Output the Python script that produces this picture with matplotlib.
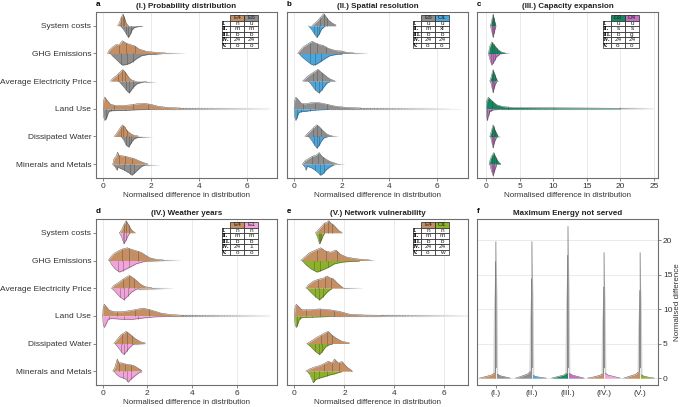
import numpy as np
import matplotlib.pyplot as plt
from matplotlib.collections import LineCollection
from matplotlib.patches import Rectangle

plt.rcParams['font.family'] = ['Liberation Sans', 'DejaVu Sans']

categories = ["System costs", "GHG Emissions", "Average Electricity Price",
              "Land Use", "Dissipated Water", "Minerals and Metals"]
row_labels = ["I.", "II.", "III.", "IV.", "V."]

# scenario colours
col = {'E4': '#c58e63', 'E6': '#8e8e8e', 'O1b': '#4aa6dc', 'D3': '#16875e',
       'D4': '#c272c2', 'E1': '#f2a3db', 'O1e': '#8cb22a'}

# half-violin profiles: (x, half height) knots, one list per category
# panel a: E4 (upper) vs E6 (lower)
a_upper = [
    [(0.6, 0), (0.68, 0.12), (0.75, 0.3), (0.82, 0.42), (0.88, 0.32), (0.95, 0.12), (1.0, 0.04), (1.05, 0.02)],
    [(0.18, 0), (0.25, 0.12), (0.4, 0.24), (0.55, 0.33), (0.65, 0.3), (0.8, 0.46), (0.95, 0.38), (1.1, 0.33),
     (1.3, 0.28), (1.5, 0.16), (1.8, 0.08), (2.2, 0.04), (2.6, 0.02)],
    [(0.3, 0), (0.4, 0.1), (0.55, 0.2), (0.7, 0.33), (0.82, 0.42), (0.9, 0.35), (1.0, 0.22), (1.1, 0.1),
     (1.2, 0.04), (1.3, 0.02)],
    [(0.0, 0), (0.02, 0.3), (0.07, 0.43), (0.15, 0.32), (0.3, 0.17), (0.5, 0.12), (0.8, 0.12), (1.1, 0.14),
     (1.4, 0.18), (1.7, 0.2), (2.0, 0.16), (2.3, 0.09), (2.7, 0.05), (3.2, 0.03)],
    [(0.45, 0), (0.55, 0.1), (0.7, 0.3), (0.8, 0.42), (0.9, 0.35), (1.0, 0.2), (1.15, 0.1), (1.3, 0.04), (1.45, 0.02)],
    [(0.4, 0), (0.45, 0.2), (0.55, 0.3), (0.6, 0.44), (0.65, 0.32), (0.8, 0.3), (0.95, 0.28), (1.1, 0.24),
     (1.3, 0.2), (1.5, 0.12), (1.7, 0.05), (1.85, 0.02)],
]
a_lower = [
    [(0.72, 0), (0.8, 0.08), (0.9, 0.2), (1.0, 0.35), (1.05, 0.42), (1.12, 0.32), (1.2, 0.15), (1.3, 0.06),
     (1.45, 0.03), (1.6, 0.02)],
    [(0.3, 0), (0.4, 0.1), (0.55, 0.22), (0.7, 0.35), (0.8, 0.42), (0.95, 0.4), (1.1, 0.36), (1.25, 0.28),
     (1.4, 0.18), (1.6, 0.08), (1.9, 0.03), (2.2, 0.02)],
    [(0.65, 0), (0.75, 0.1), (0.9, 0.25), (1.0, 0.36), (1.08, 0.42), (1.15, 0.35), (1.25, 0.22), (1.4, 0.1),
     (1.6, 0.04), (1.8, 0.02)],
    [(0.0, 0), (0.02, 0.3), (0.07, 0.42), (0.15, 0.3), (0.22, 0.12), (0.3, 0.07), (0.6, 0.06), (1.0, 0.05),
     (1.5, 0.03), (2.0, 0.02)],
    [(0.75, 0), (0.85, 0.12), (0.95, 0.3), (1.05, 0.38), (1.12, 0.3), (1.2, 0.18), (1.3, 0.08), (1.45, 0.03), (1.6, 0.02)],
    [(0.4, 0), (0.5, 0.1), (0.58, 0.22), (0.62, 0.1), (0.7, 0.15), (0.85, 0.2), (1.0, 0.28), (1.1, 0.33),
     (1.2, 0.4), (1.3, 0.32), (1.45, 0.2), (1.6, 0.08), (1.75, 0.03)],
]
a_tail_upper = [1.05, 3.4, 1.45, 6.95, 1.5, 1.85]
a_tail_lower = [1.65, 2.5, 2.2, 6.9, 2.05, 2.35]

# panel b: E6 (upper) vs O1 (lower)
b_upper = [
    [(0.75, 0), (0.85, 0.08), (1.0, 0.2), (1.1, 0.3), (1.2, 0.4), (1.25, 0.44), (1.32, 0.35), (1.45, 0.2),
     (1.6, 0.1), (1.75, 0.03)],
    [(0.15, 0), (0.25, 0.12), (0.4, 0.25), (0.6, 0.36), (0.75, 0.44), (0.9, 0.38), (1.05, 0.32), (1.2, 0.3),
     (1.4, 0.2), (1.6, 0.14), (1.8, 0.1), (2.0, 0.09), (2.2, 0.04), (2.5, 0.02)],
    [(0.35, 0), (0.45, 0.08), (0.6, 0.2), (0.8, 0.32), (0.95, 0.4), (1.0, 0.43), (1.1, 0.35), (1.25, 0.25),
     (1.4, 0.14), (1.55, 0.06), (1.7, 0.02)],
    [(0.0, 0), (0.02, 0.3), (0.07, 0.42), (0.15, 0.35), (0.3, 0.2), (0.45, 0.18), (0.7, 0.22), (1.0, 0.23),
     (1.3, 0.18), (1.7, 0.1), (2.2, 0.05), (2.8, 0.03)],
    [(0.45, 0), (0.55, 0.1), (0.7, 0.22), (0.85, 0.35), (0.95, 0.42), (1.05, 0.36), (1.2, 0.22), (1.35, 0.1),
     (1.5, 0.04), (1.6, 0.02)],
    [(0.35, 0), (0.45, 0.12), (0.6, 0.2), (0.75, 0.28), (0.9, 0.32), (1.0, 0.38), (1.05, 0.42), (1.15, 0.3),
     (1.3, 0.2), (1.5, 0.1), (1.7, 0.04), (1.8, 0.02)],
]
b_lower = [
    [(0.6, 0), (0.7, 0.1), (0.82, 0.25), (0.95, 0.42), (1.05, 0.3), (1.15, 0.12), (1.25, 0.04), (1.3, 0.02)],
    [(0.2, 0), (0.3, 0.1), (0.5, 0.25), (0.7, 0.38), (0.8, 0.42), (0.95, 0.38), (1.1, 0.3), (1.3, 0.18),
     (1.5, 0.08), (1.8, 0.03), (2.0, 0.02)],
    [(0.6, 0), (0.7, 0.1), (0.85, 0.28), (1.0, 0.4), (1.05, 0.42), (1.15, 0.32), (1.3, 0.15), (1.4, 0.05), (1.5, 0.02)],
    [(0.0, 0), (0.02, 0.3), (0.07, 0.42), (0.12, 0.3), (0.2, 0.14), (0.3, 0.1), (0.5, 0.09), (0.7, 0.06),
     (1.0, 0.04), (1.5, 0.02)],
    [(0.6, 0), (0.7, 0.1), (0.85, 0.3), (0.95, 0.42), (1.05, 0.32), (1.15, 0.15), (1.25, 0.05), (1.35, 0.02)],
    [(0.35, 0), (0.45, 0.1), (0.5, 0.22), (0.55, 0.08), (0.7, 0.12), (0.85, 0.2), (1.0, 0.3), (1.1, 0.4),
     (1.2, 0.35), (1.35, 0.2), (1.5, 0.1), (1.65, 0.03)],
]
b_tail_upper = [1.75, 3.1, 1.75, 6.5, 1.85, 2.1]
b_tail_lower = [1.3, 2.0, 1.5, 7.0, 1.4, 1.7]

# panel c: D3 (upper) vs D4 (lower)
c_upper = [
    [(0.6, 0), (0.8, 0.2), (1.0, 0.42), (1.2, 0.2), (1.4, 0.03)],
    [(0.3, 0), (0.5, 0.25), (0.8, 0.42), (1.2, 0.3), (1.7, 0.15), (2.2, 0.06), (2.8, 0.02)],
    [(0.5, 0), (0.7, 0.15), (1.0, 0.42), (1.3, 0.2), (1.6, 0.04)],
    [(0.0, 0), (0.05, 0.3), (0.3, 0.42), (0.8, 0.3), (1.5, 0.15), (2.5, 0.08), (4.0, 0.05), (8.0, 0.04),
     (15.0, 0.03), (20.0, 0.02)],
    [(0.5, 0), (0.75, 0.2), (1.0, 0.42), (1.3, 0.22), (1.7, 0.04)],
    [(0.4, 0), (0.6, 0.2), (0.8, 0.3), (1.1, 0.42), (1.4, 0.25), (1.8, 0.08), (2.1, 0.02)],
]
c_lower = [
    [(0.6, 0), (0.8, 0.2), (1.0, 0.42), (1.2, 0.2), (1.4, 0.03)],
    [(0.3, 0), (0.5, 0.2), (0.8, 0.42), (1.1, 0.3), (1.5, 0.12), (2.0, 0.03)],
    [(0.6, 0), (0.8, 0.2), (1.0, 0.42), (1.2, 0.2), (1.5, 0.03)],
    [(0.0, 0), (0.05, 0.3), (0.15, 0.42), (0.3, 0.25), (0.5, 0.1), (1.0, 0.04), (2.0, 0.02)],
    [(0.6, 0), (0.8, 0.2), (1.0, 0.42), (1.2, 0.2), (1.5, 0.03)],
    [(0.5, 0), (0.7, 0.2), (1.0, 0.42), (1.2, 0.25), (1.5, 0.05)],
]
c_tail_upper = [1.4, 3.5, 1.8, 25.0, 2.0, 2.1]
c_tail_lower = [1.4, 2.2, 1.5, 25.0, 2.0, 1.5]

# panel d: E4 (upper) vs E1 (lower)
d_upper = [
    [(0.75, 0), (0.85, 0.12), (0.95, 0.3), (1.05, 0.44), (1.15, 0.3), (1.25, 0.15), (1.35, 0.05), (1.45, 0.02)],
    [(0.25, 0), (0.35, 0.12), (0.5, 0.25), (0.7, 0.35), (0.9, 0.42), (1.1, 0.46), (1.3, 0.4), (1.5, 0.35),
     (1.7, 0.3), (1.9, 0.2), (2.1, 0.1), (2.4, 0.04), (2.7, 0.02)],
    [(0.4, 0), (0.5, 0.1), (0.7, 0.2), (0.9, 0.32), (1.05, 0.4), (1.2, 0.46), (1.35, 0.38), (1.5, 0.28),
     (1.7, 0.14), (1.9, 0.05), (2.2, 0.02)],
    [(0.0, 0), (0.02, 0.3), (0.07, 0.42), (0.15, 0.34), (0.3, 0.2), (0.5, 0.15), (0.9, 0.15), (1.3, 0.2),
     (1.8, 0.28), (2.2, 0.2), (2.6, 0.1), (3.0, 0.05), (3.6, 0.02)],
    [(0.5, 0), (0.6, 0.1), (0.8, 0.3), (1.05, 0.44), (1.25, 0.32), (1.45, 0.18), (1.7, 0.06), (1.9, 0.02)],
    [(0.45, 0), (0.55, 0.15), (0.65, 0.44), (0.72, 0.3), (0.85, 0.3), (1.0, 0.26), (1.2, 0.24), (1.4, 0.2),
     (1.6, 0.1), (1.75, 0.02)],
]
d_lower = [
    [(0.75, 0), (0.85, 0.15), (0.95, 0.4), (1.05, 0.25), (1.15, 0.08), (1.2, 0.02)],
    [(0.3, 0), (0.4, 0.15), (0.55, 0.3), (0.75, 0.42), (0.95, 0.35), (1.2, 0.25), (1.5, 0.12), (1.8, 0.05), (2.0, 0.02)],
    [(0.4, 0), (0.55, 0.12), (0.75, 0.3), (0.95, 0.42), (1.1, 0.3), (1.3, 0.14), (1.5, 0.04), (1.6, 0.02)],
    [(0.0, 0), (0.02, 0.3), (0.07, 0.42), (0.15, 0.3), (0.25, 0.12), (0.4, 0.1), (0.8, 0.12), (1.3, 0.13),
     (1.8, 0.08), (2.3, 0.04), (3.0, 0.02)],
    [(0.55, 0), (0.7, 0.15), (0.85, 0.32), (0.95, 0.4), (1.05, 0.3), (1.2, 0.15), (1.35, 0.04), (1.45, 0.02)],
    [(0.5, 0), (0.6, 0.1), (0.75, 0.2), (0.9, 0.24), (1.05, 0.3), (1.15, 0.4), (1.25, 0.3), (1.4, 0.2),
     (1.55, 0.1), (1.7, 0.02)],
]
d_tail_upper = [1.45, 3.45, 3.15, 7.5, 1.9, 1.75]
d_tail_lower = [1.2, 2.75, 2.7, 7.5, 1.9, 1.75]

# panel e: E4 (upper) vs O1 (lower)
e_upper = [
    [(0.85, 0), (0.95, 0.1), (1.1, 0.25), (1.2, 0.35), (1.3, 0.38), (1.38, 0.44), (1.45, 0.35), (1.55, 0.3),
     (1.65, 0.2), (1.8, 0.06), (1.9, 0.02)],
    [(0.25, 0), (0.4, 0.12), (0.6, 0.28), (0.8, 0.36), (1.05, 0.46), (1.25, 0.34), (1.45, 0.3), (1.65, 0.38),
     (1.85, 0.22), (2.1, 0.12), (2.5, 0.06), (3.0, 0.02)],
    [(0.45, 0), (0.55, 0.12), (0.75, 0.25), (0.95, 0.32), (1.15, 0.36), (1.3, 0.44), (1.4, 0.38), (1.55, 0.34),
     (1.7, 0.2), (1.85, 0.08), (1.95, 0.02)],
    [(0.0, 0), (0.02, 0.3), (0.07, 0.42), (0.15, 0.35), (0.3, 0.22), (0.6, 0.22), (1.0, 0.25), (1.4, 0.22),
     (1.8, 0.16), (2.2, 0.06), (2.8, 0.03), (3.5, 0.02)],
    [(0.5, 0), (0.65, 0.08), (0.85, 0.2), (1.05, 0.3), (1.2, 0.38), (1.35, 0.44), (1.5, 0.3), (1.7, 0.18),
     (1.9, 0.08), (2.2, 0.02)],
    [(0.45, 0), (0.6, 0.08), (0.8, 0.15), (1.0, 0.2), (1.2, 0.28), (1.35, 0.36), (1.5, 0.3), (1.6, 0.44),
     (1.75, 0.3), (1.9, 0.35), (2.1, 0.15), (2.3, 0.02)],
]
e_lower = [
    [(0.85, 0), (0.92, 0.15), (1.0, 0.4), (1.08, 0.25), (1.15, 0.1), (1.2, 0.02)],
    [(0.3, 0), (0.45, 0.15), (0.65, 0.3), (0.9, 0.42), (1.1, 0.35), (1.35, 0.25), (1.6, 0.12), (1.9, 0.06),
     (2.3, 0.03), (2.6, 0.02)],
    [(0.5, 0), (0.65, 0.15), (0.85, 0.32), (1.0, 0.42), (1.15, 0.3), (1.3, 0.15), (1.45, 0.04), (1.5, 0.02)],
    [(0.0, 0), (0.02, 0.3), (0.07, 0.42), (0.13, 0.3), (0.2, 0.12), (0.3, 0.06), (0.6, 0.05), (1.0, 0.04), (1.5, 0.02)],
    [(0.5, 0), (0.65, 0.12), (0.85, 0.3), (1.0, 0.4), (1.1, 0.3), (1.25, 0.12), (1.4, 0.04), (1.5, 0.02)],
    [(0.5, 0), (0.6, 0.1), (0.7, 0.3), (0.75, 0.42), (0.85, 0.3), (1.0, 0.25), (1.2, 0.2), (1.4, 0.14),
     (1.6, 0.1), (1.8, 0.04), (1.9, 0.02)],
]
e_tail_upper = [1.9, 3.2, 2.7, 6.95, 2.2, 2.3]
e_tail_lower = [1.2, 2.6, 1.5, 6.9, 1.5, 1.9]

# scenario definitions shown in the small tables
a_table = [["n", "u"], ["m", "m"], ["b", "b"], ["24", "24"], ["o", "o"]]
b_table = [["u", "u"], ["m", "xl"], ["b", "b"], ["24", "24"], ["o", "o"]]
c_table = [["u", "u"], ["s", "s"], ["b", "g"], ["24", "24"], ["o", "o"]]
d_table = [["n", "n"], ["m", "m"], ["b", "b"], ["24", "1"], ["o", "o"]]
e_table = [["n", "n"], ["m", "m"], ["b", "b"], ["24", "24"], ["o", "w"]]

# panel f: maximum energy not served, (value, half width) knots and spike tops
f_labels = ["(I.)", "(II.)", "(III.)", "(IV.)", "(V.)"]
f_left_colors = ['E4', 'E6', 'D3', 'E4', 'E4']
f_right_colors = ['E6', 'O1b', 'D4', 'E1', 'O1e']
f_left = [
    [(0, 0.45), (0.2, 0.3), (0.45, 0.12), (0.7, 0.04)],
    [(0, 0.45), (0.25, 0.3), (0.6, 0.12), (0.95, 0.04)],
    [(0, 0.45), (0.2, 0.3), (0.45, 0.12), (0.7, 0.04)],
    [(0, 0.45), (0.15, 0.3), (0.4, 0.12), (0.6, 0.04)],
    [(0, 0.45), (0.25, 0.3), (0.55, 0.12), (0.85, 0.05)],
]
f_right = [
    [(0, 0.4), (0.15, 0.28), (0.35, 0.12), (0.6, 0.04)],
    [(0, 0.4), (0.1, 0.25), (0.25, 0.1), (0.4, 0.04)],
    [(0, 0.45), (0.2, 0.3), (0.45, 0.12), (0.7, 0.04)],
    [(0, 0.45), (0.2, 0.3), (0.45, 0.12), (0.7, 0.04)],
    [(0, 0.4), (0.12, 0.25), (0.3, 0.1), (0.5, 0.04)],
]
f_left_max = [16.9, 14.4, 17.8, 13.2, 12.7]
f_right_max = [19.8, 19.8, 22.0, 18.2, 18.2]

panels = [
    dict(letter='a', title='(I.) Probability distribution', up=a_upper, lo=a_lower, tu=a_tail_upper,
         tl=a_tail_lower, names=('E4', 'E6'), cols=('E4', 'E6'), table=a_table, xlim=(-0.3, 7.25),
         xticks=[0, 2, 4, 6], pos=(96, 12)),
    dict(letter='b', title='(II.) Spatial resolution', up=b_upper, lo=b_lower, tu=b_tail_upper,
         tl=b_tail_lower, names=('E6', 'O1'), cols=('E6', 'O1b'), table=b_table, xlim=(-0.3, 7.3),
         xticks=[0, 2, 4, 6], pos=(287, 12)),
    dict(letter='c', title='(III.) Capacity expansion', up=c_upper, lo=c_lower, tu=c_tail_upper,
         tl=c_tail_lower, names=('D3', 'D4'), cols=('D3', 'D4'), table=c_table, xlim=(-1.4, 25.6),
         xticks=[0, 5, 10, 15, 20, 25], pos=(477, 12)),
    dict(letter='d', title='(IV.) Weather years', up=d_upper, lo=d_lower, tu=d_tail_upper,
         tl=d_tail_lower, names=('E4', 'E1'), cols=('E4', 'E1'), table=d_table, xlim=(-0.3, 7.8),
         xticks=[0, 2, 4, 6], pos=(96, 219)),
    dict(letter='e', title='(V.) Network vulnerability', up=e_upper, lo=e_lower, tu=e_tail_upper,
         tl=e_tail_lower, names=('E4', 'O1'), cols=('E4', 'O1e'), table=e_table, xlim=(-0.3, 6.95),
         xticks=[0, 2, 4, 6], pos=(287, 219)),
]

W, H = 683, 407
AW, AH = 181, 166
fig = plt.figure(figsize=(W / 100, H / 100), dpi=100)

grid_c = '#e6e6e6'
fs = 6.0


def style_axes(ax):
    for s in ax.spines.values():
        s.set_color('#6e6e6e')
        s.set_linewidth(0.8)
    ax.tick_params(length=2, width=0.5, color='#555555', labelsize=fs, pad=1.5, labelcolor='#333333')


def tail(ax, x0, x1, y, color):
    if x1 <= x0:
        return
    n = 60
    xs = np.linspace(x0, x1, n + 1)
    segs = [[(xs[i], y), (xs[i + 1], y)] for i in range(n)]
    fade = np.linspace(0, 1, n)
    c0 = np.array(plt.matplotlib.colors.to_rgb(color))
    c1 = np.array([0.95, 0.95, 0.95])
    cols = [tuple(c0 * (1 - t) + c1 * t) for t in fade]
    ax.add_collection(LineCollection(segs, colors=cols, linewidths=0.8, zorder=2))


def half(ax, knots, y0, sign, color, tail_end):
    xs = np.array([k[0] for k in knots], dtype=float)
    hs = np.array([k[1] for k in knots], dtype=float)
    tail(ax, xs[-1] - 0.01 * (xs[-1] - xs[0]), tail_end, y0 + sign * 0.02, '#808080')
    ax.fill_between(xs, y0, y0 + sign * hs, color=color, lw=0, zorder=3)
    ax.plot(xs, y0 + sign * hs, color='#4a4a4a', lw=0.3, zorder=4)
    # quartile lines from the cumulative area of the profile
    area = np.concatenate([[0], np.cumsum(np.diff(xs) * (hs[1:] + hs[:-1]) / 2)])
    area /= area[-1]
    for q in (0.25, 0.5, 0.75):
        xq = np.interp(q, area, xs)
        hq = np.interp(xq, xs, hs)
        ax.plot([xq, xq], [y0, y0 + sign * hq], color='#3a3a3a', lw=0.4, alpha=0.6, zorder=4)


def draw_table(ax, names, cols, rows):
    tr = ax.transAxes
    right = 1 - 19 / AW
    cw = 14 / AW
    lw_ = 8.5 / AW
    rh = 5.5 / AH
    top = 1 - 3 / AH
    left = right - 2 * cw - lw_
    for j, (nm, cc) in enumerate(zip(names, cols)):
        x = left + lw_ + j * cw
        ax.add_patch(Rectangle((x, top - rh), cw, rh, transform=tr, facecolor=col[cc],
                               edgecolor='#222222', lw=0.5, zorder=6, clip_on=False))
        ax.text(x + cw / 2, top - rh / 2, nm, transform=tr, ha='center', va='center',
                fontsize=4.6, color='#222222', zorder=7)
    for i, (rl, vals) in enumerate(zip(row_labels, rows)):
        y = top - rh * (i + 2)
        ax.add_patch(Rectangle((left, y), lw_, rh, transform=tr, facecolor='white',
                               edgecolor='#222222', lw=0.5, zorder=6))
        ax.text(left + 0.004, y + rh / 2, rl, transform=tr, ha='left', va='center',
                fontsize=4.3, fontweight='bold', family=['Liberation Serif', 'DejaVu Serif'], zorder=7)
        for j, v in enumerate(vals):
            x = left + lw_ + j * cw
            ax.add_patch(Rectangle((x, y), cw, rh, transform=tr, facecolor='white',
                                   edgecolor='#222222', lw=0.5, zorder=6))
            ax.text(x + cw / 2, y + rh / 2, v, transform=tr, ha='center', va='center',
                    fontsize=4.6, color='#222222', zorder=7)


ypos = np.arange(len(categories))[::-1]

for p in panels:
    px, py = p['pos']
    ax = fig.add_axes([px / W, 1 - (py + AH) / H, AW / W, AH / H])
    style_axes(ax)
    ax.set_xlim(*p['xlim'])
    ax.set_ylim(-0.5, len(categories) - 0.5)
    ax.set_xticks(p['xticks'])
    for xt in p['xticks']:
        ax.axvline(xt, color=grid_c, lw=0.6, zorder=0)
    ax.set_yticks(ypos)
    if p['letter'] in ('a', 'd'):
        ax.set_yticklabels(categories)
    else:
        ax.set_yticklabels([])
        ax.tick_params(axis='y', length=0)
    c_up, c_lo = col[p['cols'][0]], col[p['cols'][1]]
    for i, y0 in enumerate(ypos):
        half(ax, p['up'][i], y0, 1, c_up, p['tu'][i])
        half(ax, p['lo'][i], y0, -1, c_lo, p['tl'][i])
    ax.set_xlabel('Normalised difference in distribution', fontsize=5.8, labelpad=1.5, color='#333333')
    ax.set_title(p['title'], fontsize=5.8, fontweight='bold', pad=3, color='#222222')
    ax.text(0, 1.025, p['letter'], transform=ax.transAxes, fontsize=5.8, fontweight='bold',
            ha='left', va='bottom')
    draw_table(ax, p['names'], p['cols'], p['table'])

# panel f
ax = fig.add_axes([477 / W, 1 - (219 + AH) / H, AW / W, AH / H])
style_axes(ax)
ax.set_xlim(0.48, 5.5)
ax.set_ylim(-1.0, 23.1)
ax.yaxis.tick_right()
ax.yaxis.set_label_position('right')
ax.set_yticks([0, 5, 10, 15, 20])
for yt in [0, 5, 10, 15, 20]:
    ax.axhline(yt, color=grid_c, lw=0.6, zorder=0)
ax.set_xticks(range(1, 6))
ax.set_xticklabels(f_labels)
ax.set_ylabel('Normalised difference', fontsize=5.8, labelpad=1, color='#333333')
ax.set_title('Maximum Energy not served', fontsize=5.8, fontweight='bold', pad=3, color='#222222')
ax.text(0, 1.025, 'f', transform=ax.transAxes, fontsize=5.8, fontweight='bold', ha='left', va='bottom')

for i in range(5):
    x0 = i + 1
    for knots, top, side, cc in ((f_left[i], f_left_max[i], -1, f_left_colors[i]),
                                 (f_right[i], f_right_max[i], 1, f_right_colors[i])):
        ys = np.array([k[0] for k in knots], dtype=float)
        ws = np.array([k[1] for k in knots], dtype=float)
        # thin spike of the long upper tail
        sx = [x0, x0 + side * 0.07, x0 + side * 0.05, x0]
        sy = [ys[0], ys[0], top * 0.6, top]
        ax.fill(sx, sy, color='#d4d4d4', lw=0, zorder=2)
        ax.plot([x0 + side * 0.012, x0 + side * 0.004], [ys[0], top], color='#6a6a6a', lw=0.5, zorder=3)
        ax.fill_betweenx(ys, x0, x0 + side * ws, color=col[cc], lw=0, zorder=4)
        ax.plot(x0 + side * ws, ys, color='#4a4a4a', lw=0.35, zorder=5)
    ax.plot([x0, x0], [-0.1, 1.5], color='white', lw=0.6, zorder=5)

fig.savefig('out.png', dpi=100)
